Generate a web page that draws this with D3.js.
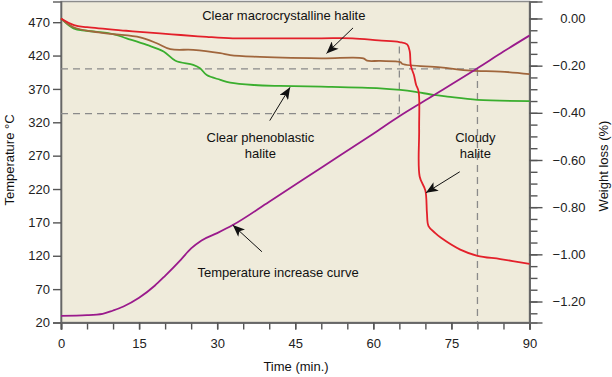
<!DOCTYPE html>
<html>
<head>
<meta charset="utf-8">
<script src="https://cdn.jsdelivr.net/npm/d3@7/dist/d3.min.js"></script>
<style>
  body { margin: 0; background: #fff; }
  svg { font-family: "Liberation Sans", Arial, Helvetica, sans-serif; }
</style>
</head>
<body>
<svg id="chart" width="612" height="377"></svg>
<script>
// time (min.) vs temperature (°C)
var tempTime = [0, 5, 8, 10, 12, 15, 18, 20, 23, 25, 27, 30, 33, 40, 50, 60, 65, 70, 80, 85, 90];
var tempVal  = [30, 31, 33, 38, 44, 57, 75, 90, 114, 131, 143, 154, 166, 201, 252, 303, 329, 353, 401, 426, 450];

// weight loss (%) curves
var redTime = [0, 2.5, 5, 12.5, 19, 23, 28, 33, 40, 50, 56, 61, 65, 66.5, 67, 67.2, 67.8, 68.2, 68.7, 68.8, 68.9, 70, 70.3, 70.6, 71.9, 73, 76.7, 80, 84.4, 90];
var redVal  = [0, -0.028, -0.037, -0.052, -0.063, -0.07, -0.078, -0.084, -0.084, -0.084, -0.084, -0.093, -0.1, -0.11, -0.14, -0.2, -0.24, -0.28, -0.31, -0.47, -0.67, -0.73, -0.825, -0.88, -0.91, -0.93, -0.98, -1.006, -1.02, -1.04];

var brownTime = [0, 2.4, 6.2, 10, 15.2, 18.4, 21, 25.4, 30.6, 32.5, 37, 50, 58.1, 58.8, 61.3, 65.2, 65.6, 72.9, 78.7, 84.4, 90];
var brownVal  = [0, -0.037, -0.056, -0.066, -0.08, -0.105, -0.13, -0.133, -0.147, -0.155, -0.162, -0.169, -0.169, -0.179, -0.18, -0.185, -0.193, -0.207, -0.221, -0.225, -0.236];

var greenTime = [0, 2.4, 4.9, 10, 12.6, 16.5, 19.7, 22, 25.4, 26.7, 28, 30.6, 32.5, 37, 42, 50, 61.3, 65.2, 67.8, 71.6, 74.2, 80, 90];
var greenVal  = [0, -0.042, -0.052, -0.066, -0.084, -0.112, -0.14, -0.179, -0.197, -0.211, -0.24, -0.26, -0.272, -0.282, -0.286, -0.289, -0.296, -0.303, -0.31, -0.324, -0.331, -0.345, -0.35];

// guide lines (time, temperature)
var guideTimes = [65, 80];
var guideTemps = [333, 400];

var xTicks = [0, 15, 30, 45, 60, 75, 90];
var xMinor = d3.range(0, 91, 5);
var tempTicks = [20, 70, 120, 170, 220, 270, 320, 370, 420, 470];
var wTicks = [0, -0.2, -0.4, -0.6, -0.8, -1.0, -1.2];
var wMinor = d3.range(0, -1.26, -0.05);

var svg = d3.select('#chart');
var pl = 61, pr = 529.5, pt = 1.5, pb = 322.5;

var x = d3.scaleLinear().domain([0, 90]).range([pl, pr]);
var yT = d3.scaleLinear().domain([20, 501]).range([pb, pt]);
var yW = d3.scaleLinear().domain([-1.289, 0.072]).range([pb, pt]);

// plot background
svg.append('rect')
  .attr('x', pl).attr('y', pt)
  .attr('width', pr - pl).attr('height', pb - pt)
  .attr('fill', '#efebdb')
  .attr('stroke', '#8c8c8c').attr('stroke-width', 1.5);

// axes
var fmtW = function(d) { return Math.abs(d) < 1e-9 ? '0.00' : '\u2212' + Math.abs(d).toFixed(2); };

svg.append('g')
  .attr('transform', 'translate(0,' + pb + ')')
  .call(d3.axisBottom(x).tickValues(xMinor).tickSize(7).tickFormat(''));
svg.append('g')
  .attr('transform', 'translate(0,' + pb + ')')
  .call(d3.axisBottom(x).tickValues(xTicks).tickSize(7).tickPadding(9).tickFormat(d3.format('d')));

svg.append('g')
  .attr('transform', 'translate(' + pl + ',0)')
  .call(d3.axisLeft(yT).tickValues(tempTicks).tickSize(8).tickPadding(3));

svg.append('g')
  .attr('transform', 'translate(' + pr + ',0)')
  .call(d3.axisRight(yW).tickValues(wMinor).tickSize(8).tickFormat(''));
var yRight = svg.append('g')
  .attr('transform', 'translate(' + pr + ',0)')
  .call(d3.axisRight(yW).tickValues(wTicks).tickSize(13).tickPadding(10).tickFormat(fmtW));

svg.selectAll('.domain').attr('stroke', '#666').attr('stroke-width', 1.6);
svg.selectAll('.tick line').attr('stroke', '#555').attr('stroke-width', 1.4);
svg.selectAll('.tick text').attr('fill', '#222').style('font-size', '13px');
yRight.selectAll('.tick text').attr('text-anchor', 'end').attr('x', 56);

// dashed guides
var guides = svg.append('g')
  .attr('stroke', '#8a8a8a').attr('stroke-width', 1.3)
  .attr('stroke-dasharray', '7,5').attr('fill', 'none');
guides.append('line')
  .attr('x1', x(0)).attr('x2', x(guideTimes[1]))
  .attr('y1', yT(guideTemps[1])).attr('y2', yT(guideTemps[1]));
guides.append('line')
  .attr('x1', x(guideTimes[1])).attr('x2', x(guideTimes[1]))
  .attr('y1', yT(guideTemps[1])).attr('y2', pb);
guides.append('line')
  .attr('x1', x(0)).attr('x2', x(guideTimes[0]))
  .attr('y1', yT(guideTemps[0])).attr('y2', yT(guideTemps[0]));
guides.append('line')
  .attr('x1', x(guideTimes[0])).attr('x2', x(guideTimes[0]))
  .attr('y1', yT(guideTemps[0])).attr('y2', yW(-0.1));

// curves
function series(ts, vs) { return ts.map(function(t, i) { return [t, vs[i]]; }); }

var lineW = d3.line().x(function(d) { return x(d[0]); }).y(function(d) { return yW(d[1]); })
  .curve(d3.curveCatmullRom.alpha(0.5));
var lineT = d3.line().x(function(d) { return x(d[0]); }).y(function(d) { return yT(d[1]); })
  .curve(d3.curveMonotoneX);

svg.append('path').datum(series(greenTime, greenVal))
  .attr('d', lineW).attr('fill', 'none').attr('stroke', '#3aae2e').attr('stroke-width', 1.8);
svg.append('path').datum(series(brownTime, brownVal))
  .attr('d', lineW).attr('fill', 'none').attr('stroke', '#a0663c').attr('stroke-width', 1.8);
svg.append('path').datum(series(tempTime, tempVal))
  .attr('d', lineT).attr('fill', 'none').attr('stroke', '#9a1a8c').attr('stroke-width', 1.8);
svg.append('path').datum(series(redTime, redVal))
  .attr('d', lineW).attr('fill', 'none').attr('stroke', '#e3202a').attr('stroke-width', 1.8);

// annotations
svg.append('defs').append('marker')
  .attr('id', 'head').attr('viewBox', '0 0 12 10')
  .attr('refX', 12).attr('refY', 5)
  .attr('markerWidth', 13).attr('markerHeight', 10)
  .attr('markerUnits', 'userSpaceOnUse').attr('orient', 'auto')
  .append('path').attr('d', 'M0,0 L12,5 L0,10 L3,5 Z').attr('fill', '#111');

var notes = [
  { lines: ['Clear macrocrystalline halite'], tx: 42.8, ty: 0.011, axis: 'w',
    from: [56.1, -0.040], to: [51.0, -0.148] },
  { lines: ['Clear phenoblastic', 'halite'], tx: 38.3, ty: -0.504, axis: 'w',
    from: [40.1, -0.433], to: [44.0, -0.292] },
  { lines: ['Cloudy', 'halite'], tx: 79.6, ty: -0.505, axis: 'w',
    from: [76.6, -0.650], to: [70.1, -0.739] },
  { lines: ['Temperature increase curve'], tx: 41.7, ty: 95, axis: 't',
    from: [38.6, 126], to: [33.0, 166] }
];

notes.forEach(function(n) {
  var ys = n.axis === 'w' ? yW : yT;
  var t = svg.append('text')
    .attr('x', x(n.tx)).attr('y', ys(n.ty))
    .attr('text-anchor', 'middle')
    .style('font-size', '13px').attr('fill', '#111');
  n.lines.forEach(function(s, i) {
    t.append('tspan').attr('x', x(n.tx)).attr('dy', i === 0 ? '0.35em' : '1.23em').text(s);
  });
  svg.append('line')
    .attr('x1', x(n.from[0])).attr('y1', ys(n.from[1]))
    .attr('x2', x(n.to[0])).attr('y2', ys(n.to[1]))
    .attr('stroke', '#111').attr('stroke-width', 1)
    .attr('marker-end', 'url(#head)');
});

// axis titles
svg.append('text')
  .attr('transform', 'translate(14,' + 160 + ') rotate(-90)')
  .attr('text-anchor', 'middle').style('font-size', '13px').attr('fill', '#111')
  .text('Temperature \u00B0C');
svg.append('text')
  .attr('transform', 'translate(603,' + 166 + ') rotate(-90)')
  .attr('text-anchor', 'middle').attr('dy', '0.35em').style('font-size', '13px').attr('fill', '#111')
  .text('Weight loss (%)');
svg.append('text')
  .attr('x', 296).attr('y', 371)
  .attr('text-anchor', 'middle').style('font-size', '13px').attr('fill', '#111')
  .text('Time (min.)');
</script>
</body>
</html>
